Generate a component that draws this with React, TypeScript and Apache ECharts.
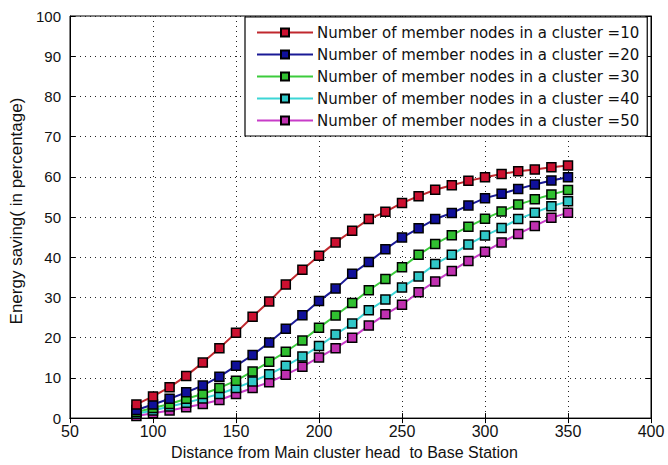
import React, { useEffect, useRef } from "react";
import * as echarts from "echarts";

const distances = [90, 100, 110, 120, 130, 140, 150, 160, 170, 180, 190, 200, 210, 220, 230, 240, 250, 260, 270, 280, 290, 300, 310, 320, 330, 340, 350];

const nodes10 = [3.4, 5.4, 7.7, 10.5, 13.8, 17.4, 21.2, 25.2, 29.0, 33.2, 36.9, 40.4, 43.7, 46.6, 49.5, 51.3, 53.5, 55.2, 56.8, 57.9, 59.0, 59.9, 60.7, 61.4, 61.8, 62.4, 62.8];
const nodes20 = [2.0, 3.4, 4.8, 6.4, 8.1, 10.3, 13.0, 15.7, 18.8, 22.2, 25.6, 29.1, 32.2, 35.9, 38.8, 42.0, 44.9, 47.2, 49.5, 51.0, 52.9, 54.7, 55.8, 57.0, 58.1, 59.1, 59.9];
const nodes30 = [1.5, 2.5, 3.5, 4.8, 6.0, 7.5, 9.3, 11.6, 14.0, 16.5, 19.3, 22.5, 25.5, 28.6, 31.8, 34.6, 37.5, 40.6, 43.3, 45.5, 47.6, 49.6, 51.4, 53.1, 54.4, 55.6, 56.7];
const nodes40 = [1.1, 1.9, 2.9, 3.8, 4.9, 6.0, 7.5, 9.1, 10.9, 13.0, 15.3, 17.9, 20.8, 23.5, 26.8, 29.5, 32.5, 35.2, 38.3, 40.6, 43.2, 45.4, 47.3, 49.5, 51.1, 52.7, 53.9];
const nodes50 = [0.5, 1.2, 1.9, 2.7, 3.5, 4.5, 6.0, 7.5, 8.9, 10.8, 12.8, 15.1, 17.4, 20.0, 23.0, 25.8, 28.2, 31.3, 34.0, 36.6, 39.1, 41.4, 43.7, 45.8, 47.8, 49.8, 51.1];

const seriesNames = [
  "Number of member nodes in a cluster =10",
  "Number of member nodes in a cluster =20",
  "Number of member nodes in a cluster =30",
  "Number of member nodes in a cluster =40",
  "Number of member nodes in a cluster =50",
];
const seriesValues = [nodes10, nodes20, nodes30, nodes40, nodes50];
const lineColors = ["#c0282e", "#1a1a96", "#3ccc3c", "#3cd6d6", "#c83cc8"];
const markerColors = ["#cc1030", "#10109a", "#30c030", "#30c8c8", "#c030b0"];

const FONT = "Liberation Sans";

export default function App() {
  const ref = useRef<HTMLDivElement>(null);
  useEffect(() => {
    if (!ref.current) return;
    const chart = echarts.init(ref.current, null, { renderer: "svg" });
    const gridLine = { show: true, lineStyle: { color: "#222", type: [1, 4] as any, width: 1 } };
    chart.setOption({
      animation: false,
      backgroundColor: "#fff",
      grid: { left: 68, top: 16, right: 17, bottom: 44, containLabel: false, show: true, borderColor: "#000", borderWidth: 1, backgroundColor: "#fff" },
      legend: {
        orient: "vertical",
        left: 245,
        top: 17,
        width: 400,
        padding: [8, 8, 8, 11],
        itemWidth: 56,
        itemHeight: 10,
        itemGap: 7,
        backgroundColor: "#fff",
        borderColor: "#000",
        borderWidth: 1.2,
        textStyle: { fontFamily: "DejaVu Sans", fontSize: 15, color: "#111", padding: [0, 0, 0, -1] },
        data: seriesNames,
      },
      xAxis: [
        {
          type: "value",
          min: 50,
          max: 400,
          interval: 50,
          name: "Distance from Main cluster head  to Base Station",
          nameLocation: "middle",
          nameGap: 24,
          nameTextStyle: { fontFamily: FONT, fontSize: 16, color: "#111", padding: [0, 32, 0, 0] },
          axisLine: { show: true, onZero: false, lineStyle: { color: "#000" } },
          axisTick: { show: true, inside: true, length: 5, lineStyle: { color: "#000" } },
          axisLabel: { fontFamily: FONT, fontSize: 16, color: "#111", margin: 5 },
          splitLine: gridLine,
        },
        {
          type: "value",
          position: "top",
          min: 50,
          max: 400,
          interval: 50,
          axisLine: { show: true, lineStyle: { color: "#000" } },
          axisTick: { show: true, inside: true, length: 5, lineStyle: { color: "#000" } },
          axisLabel: { show: false },
          splitLine: { show: false },
        },
      ],
      yAxis: [
        {
          type: "value",
          min: 0,
          max: 100,
          interval: 10,
          name: "Energy saving( in percentage)",
          nameLocation: "middle",
          nameGap: 45,
          nameTextStyle: { fontFamily: FONT, fontSize: 17, color: "#111", padding: [0, 0, 0, 12] },
          axisLine: { show: true, lineStyle: { color: "#000" } },
          axisTick: { show: true, inside: true, length: 5, lineStyle: { color: "#000" } },
          axisLabel: { fontFamily: FONT, fontSize: 15, color: "#111", margin: 9 },
          splitLine: gridLine,
        },
        {
          type: "value",
          position: "right",
          min: 0,
          max: 100,
          interval: 10,
          axisLine: { show: true, lineStyle: { color: "#000" } },
          axisTick: { show: true, inside: true, length: 5, lineStyle: { color: "#000" } },
          axisLabel: { show: false },
          splitLine: { show: false },
        },
      ],
      series: seriesNames.map((name, i) => ({
        name,
        type: "line",
        data: distances.map((d, j) => [d, seriesValues[i][j]]),
        symbol: "rect",
        symbolSize: 9,
        lineStyle: { color: lineColors[i], width: 2 },
        itemStyle: { color: markerColors[i], borderColor: "#000", borderWidth: 1.5 },
        z: 10 - i,
      })),
    });
    return () => chart.dispose();
  }, []);
  return <div ref={ref} style={{ width: 668, height: 465, position: "absolute", left: 0, top: 0 }} />;
}
